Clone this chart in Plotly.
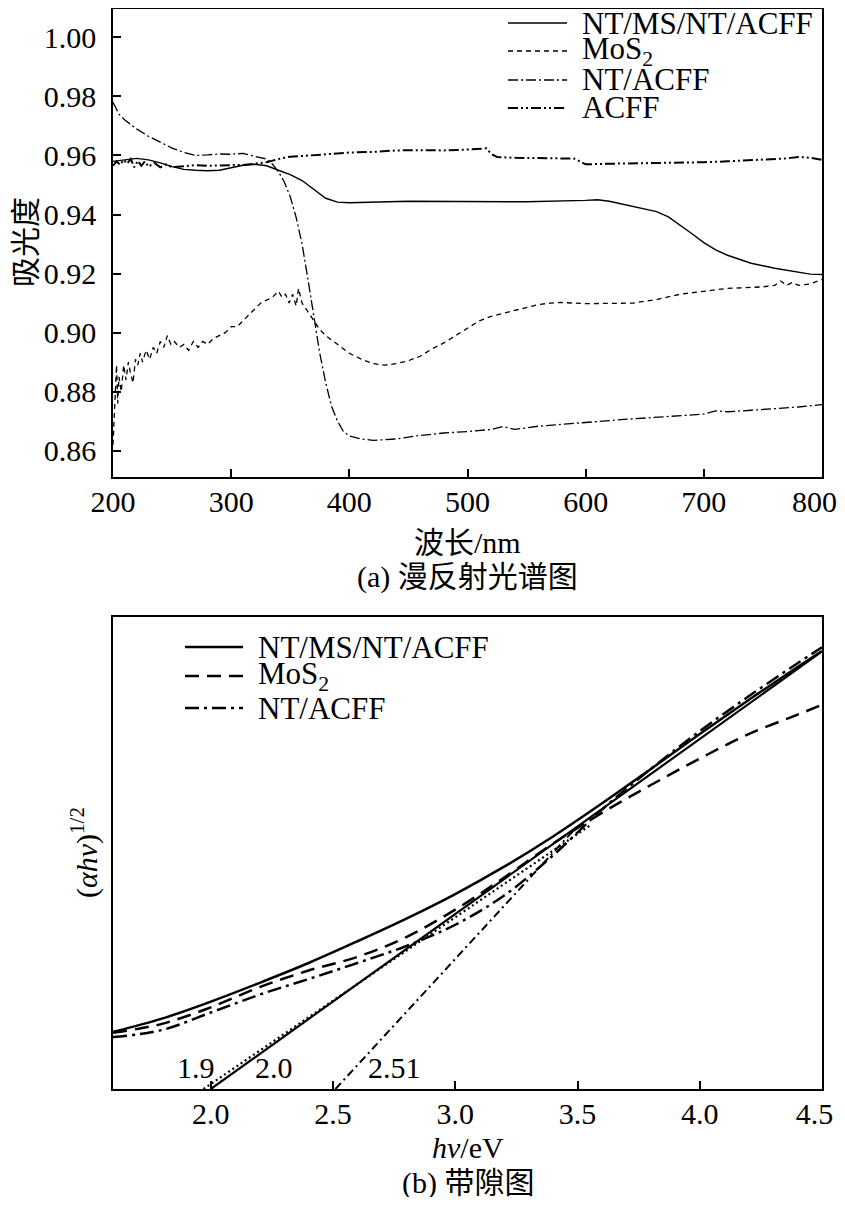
import plotly.graph_objects as go

# page is 845x1205 and the body keeps its default 8px margin
W, H = 837, 1189
OFF = 8
SERIF = "Liberation Serif, Noto Sans CJK SC, serif"

# ---------- (a) diffuse reflectance spectra ----------
ms_x = [200, 210, 220, 230, 240, 250, 260, 270, 280, 290, 300, 310, 320, 330, 340, 350,
        360, 370, 380, 390, 400, 450, 500, 550, 600, 610, 620, 640, 660, 670, 680, 690,
        700, 710, 720, 740, 760, 780, 790, 800]
ms_y = [0.9580, 0.9585, 0.9590, 0.9585, 0.9575, 0.9562, 0.9553, 0.9550, 0.9548, 0.9550,
        0.9558, 0.9567, 0.9570, 0.9565, 0.9550, 0.9535, 0.9515, 0.9485, 0.9455, 0.9442,
        0.9440, 0.9445, 0.9443, 0.9443, 0.9448, 0.9450, 0.9445, 0.9428, 0.9410, 0.9392,
        0.9365, 0.9335, 0.9305, 0.9280, 0.9262, 0.9235, 0.9218, 0.9205, 0.9198, 0.9197]

mos2_x = [200, 201, 202, 203, 204, 205, 207, 209, 211, 213, 215, 217, 219, 221, 223, 225,
          228, 231, 234, 237, 240, 243, 246, 249, 252, 256, 260, 264, 268, 272, 276, 280,
          285, 290, 295, 300, 305, 310, 315, 320, 325, 330, 335, 340, 343, 346, 349, 352,
          355, 357, 360, 365, 370, 375, 380, 390, 400, 410, 420, 430, 440, 450, 460, 470,
          480, 490, 500, 510, 520, 530, 540, 550, 560, 570, 580, 600, 620, 640, 660, 680,
          700, 720, 740, 750, 760, 765, 770, 775, 780, 790, 800]
mos2_y = [0.862, 0.872, 0.879, 0.889, 0.876, 0.885, 0.880, 0.889, 0.884, 0.890, 0.886,
          0.883, 0.891, 0.889, 0.893, 0.890, 0.894, 0.891, 0.895, 0.893, 0.897, 0.895,
          0.899, 0.896, 0.897, 0.895, 0.896, 0.894, 0.897, 0.895, 0.897, 0.896, 0.898,
          0.899, 0.900, 0.902, 0.902, 0.904, 0.906, 0.908, 0.910, 0.911, 0.912, 0.914,
          0.912, 0.913, 0.910, 0.913, 0.909, 0.915, 0.910, 0.907, 0.904, 0.901, 0.899,
          0.896, 0.893, 0.891, 0.8895, 0.889, 0.8895, 0.8905, 0.892, 0.8945, 0.8965,
          0.899, 0.9015, 0.904, 0.9055, 0.9065, 0.9075, 0.9085, 0.9095, 0.910, 0.9102,
          0.9098, 0.9098, 0.910, 0.9112, 0.913, 0.914, 0.915, 0.9153, 0.9155, 0.916,
          0.9175, 0.916, 0.917, 0.916, 0.9165, 0.918]

nt_x = [200, 205, 210, 220, 230, 240, 250, 260, 270, 280, 290, 300, 310, 320, 330, 335,
        340, 345, 350, 355, 360, 365, 370, 375, 380, 385, 390, 395, 400, 410, 420, 440,
        460, 480, 500, 520, 530, 540, 560, 580, 600, 620, 640, 660, 680, 700, 710, 720,
        740, 760, 780, 800]
nt_y = [0.978, 0.974, 0.972, 0.969, 0.9665, 0.9645, 0.9625, 0.961, 0.960, 0.9602, 0.9605,
        0.9604, 0.9607, 0.9597, 0.9588, 0.957, 0.9545, 0.951, 0.946, 0.939, 0.930, 0.918,
        0.905, 0.893, 0.883, 0.875, 0.870, 0.8665, 0.8650, 0.8640, 0.8635, 0.8640, 0.8652,
        0.8660, 0.8665, 0.8672, 0.8682, 0.8672, 0.8683, 0.8690, 0.8697, 0.8702, 0.8708,
        0.8713, 0.8718, 0.8724, 0.8735, 0.8732, 0.8737, 0.8742, 0.8748, 0.8756]

acff_x = [200, 203, 206, 209, 212, 215, 218, 221, 224, 227, 230, 235, 240, 245, 250, 260,
          270, 280, 290, 300, 310, 320, 330, 340, 350, 360, 380, 400, 420, 440, 460, 480,
          500, 510, 516, 520, 525, 540, 560, 580, 590, 595, 600, 620, 640, 660, 680, 700,
          720, 740, 760, 770, 780, 790, 800]
acff_y = [0.9565, 0.9580, 0.9568, 0.9585, 0.9572, 0.9588, 0.9560, 0.9582, 0.9565, 0.9580,
          0.9562, 0.9575, 0.9560, 0.9570, 0.9560, 0.9563, 0.9567, 0.9565, 0.9566, 0.9566,
          0.9568, 0.9572, 0.9577, 0.9588, 0.9596, 0.9598, 0.9603, 0.9610, 0.9612, 0.9617,
          0.9618, 0.9617, 0.9620, 0.9622, 0.9624, 0.9605, 0.9595, 0.9592, 0.9590, 0.9590,
          0.9590, 0.9580, 0.9570, 0.9572, 0.9573, 0.9574, 0.9575, 0.9577, 0.9580, 0.9583,
          0.9586, 0.9590, 0.9595, 0.9592, 0.9585]

a_yticks = [0.86, 0.88, 0.90, 0.92, 0.94, 0.96, 0.98, 1.00]
a_xticks = [200, 300, 400, 500, 600, 700, 800]
a_xlabels = ["200", "300", "400", "500", "600", "700", "800"]

# ---------- (b) band gap (Tauc) ----------
hv = [1.6, 1.8, 2.0, 2.2, 2.4, 2.6, 2.8, 3.0, 3.2, 3.4, 3.6, 3.8, 4.0, 4.2, 4.4, 4.5]
tauc_ms = [1.21, 1.49, 1.85, 2.25, 2.67, 3.13, 3.61, 4.13, 4.71, 5.35, 6.05, 6.78, 7.52,
           8.24, 8.94, 9.28]
tauc_mos2 = [1.19, 1.38, 1.73, 2.16, 2.51, 2.80, 3.22, 3.80, 4.48, 5.20, 5.85, 6.44, 7.00,
             7.52, 7.93, 8.14]
tauc_nt = [1.10, 1.25, 1.62, 2.00, 2.33, 2.67, 3.03, 3.48, 4.10, 4.95, 5.92, 6.78, 7.58,
           8.32, 9.02, 9.36]

# tangent (extrapolation) lines
tan_ms_x, tan_ms_y = [2.0, 4.5], [0.0, 9.27]
tan_mos2_x, tan_mos2_y = [1.97, 3.55], [0.0, 5.58]
tan_nt_x, tan_nt_y = [2.51, 3.50], [0.0, 5.57]

gap_labels = ["1.9", "2.0", "2.51"]
gap_label_x = [1.938, 2.259, 2.750]

b_xticks = [2.0, 2.5, 3.0, 3.5, 4.0, 4.5]
b_xlabels = ["2.0", "2.5", "3.0", "3.5", "4.0", "4.5"]

# last labels sit against the right page edge: pad them so they stay inside
NBSP2 = "\u00a0\u00a0"
a_xlabels_shown = a_xlabels[:-1] + [a_xlabels[-1] + NBSP2]
b_xlabels_shown = b_xlabels[:-1] + [b_xlabels[-1] + NBSP2]

fig = go.Figure()

DASH_A = {"ms": "solid", "mos2": "5px,4px", "nt": "10px,3px,2px,3px",
          "acff": "10px,3px,2px,3px,2px,3px"}
WID_A = {"ms": 1.4, "mos2": 1.3, "nt": 1.3, "acff": 2.0}

for key, xs, ys in [("ms", ms_x, ms_y), ("mos2", mos2_x, mos2_y),
                    ("nt", nt_x, nt_y), ("acff", acff_x, acff_y)]:
    fig.add_trace(go.Scatter(x=xs, y=ys, mode="lines", showlegend=False,
                             line=dict(color="black", width=WID_A[key], dash=DASH_A[key]),
                             xaxis="x", yaxis="y"))

DASH_B = {"ms": "solid", "mos2": "14px,8px", "nt": "14px,5px,3px,5px"}
for key, ys in [("ms", tauc_ms), ("mos2", tauc_mos2), ("nt", tauc_nt)]:
    fig.add_trace(go.Scatter(x=hv, y=ys, mode="lines", showlegend=False, line_shape="spline",
                             line=dict(color="black", width=2.5, dash=DASH_B[key]),
                             xaxis="x2", yaxis="y2"))

fig.add_trace(go.Scatter(x=tan_ms_x, y=tan_ms_y, mode="lines", showlegend=False,
                         line=dict(color="black", width=2.2), xaxis="x2", yaxis="y2"))
fig.add_trace(go.Scatter(x=tan_mos2_x, y=tan_mos2_y, mode="lines", showlegend=False,
                         line=dict(color="black", width=2.2, dash="2px,3px"),
                         xaxis="x2", yaxis="y2"))
fig.add_trace(go.Scatter(x=tan_nt_x, y=tan_nt_y, mode="lines", showlegend=False,
                         line=dict(color="black", width=2.0, dash="8px,4px,2px,4px"),
                         xaxis="x2", yaxis="y2"))


# page pixel -> paper fraction
def px(x):
    return (x - OFF) / W


def py(y):
    return 1 - (y - OFF) / H


axis_common = dict(showline=True, mirror=True, linecolor="black", linewidth=1.6,
                   showgrid=False, zeroline=False, ticks="inside", ticklen=8,
                   tickwidth=1.5, tickcolor="black", automargin=False,
                   ticklabeloverflow="allow",
                   tickfont=dict(family=SERIF, size=30, color="black"))

fig.update_layout(
    width=W, height=H, margin=dict(l=0, r=0, t=0, b=0, autoexpand=False),
    paper_bgcolor="white", plot_bgcolor="white",
    xaxis=dict(axis_common, domain=[px(113), px(822)], range=[200, 800],
               tickvals=a_xticks, ticktext=a_xlabels_shown, anchor="y",
               ticklabelstandoff=-3),
    yaxis=dict(axis_common, domain=[py(477), py(9)], range=[0.8511, 1.0096],
               tickvals=a_yticks, tickformat=".2f", anchor="x", ticklabelstandoff=9),
    xaxis2=dict(axis_common, domain=[px(113), px(822)], range=[1.6, 4.5],
                tickvals=b_xticks, ticktext=b_xlabels_shown, anchor="y2",
                ticklabelstandoff=-3),
    yaxis2=dict(axis_common, domain=[py(1089), py(617)], range=[0, 10],
                ticks="", showticklabels=False, anchor="x2"),
    showlegend=False,
)

anns = []
shapes = []


def legend_row(x0, x1, xt, yc, name, dash, width):
    shapes.append(dict(type="line", xref="paper", yref="paper", x0=px(x0), x1=px(x1),
                       y0=py(yc), y1=py(yc), line=dict(color="black", width=width, dash=dash)))
    anns.append(dict(text=name, xref="paper", yref="paper", x=px(xt), y=py(yc),
                     xanchor="left", yanchor="middle", showarrow=False,
                     font=dict(family=SERIF, size=31, color="black")))


names_a = ["NT/MS/NT/ACFF", "MoS<sub>2</sub>", "NT/ACFF", "ACFF"]
for name, key, yc in zip(names_a, ["ms", "mos2", "nt", "acff"], [23, 51, 80, 108]):
    legend_row(508, 567, 580, yc, name, DASH_A[key], WID_A[key])

names_b = ["NT/MS/NT/ACFF", "MoS<sub>2</sub>", "NT/ACFF"]
for name, key, yc in zip(names_b, ["ms", "mos2", "nt"], [647, 676, 708]):
    legend_row(185, 243, 256, yc, name, DASH_B[key], 2.5)

for t, gx in zip(gap_labels, gap_label_x):
    anns.append(dict(text=t, xref="x2", yref="y2", x=gx, y=0.45, showarrow=False,
                     xanchor="center", yanchor="middle",
                     font=dict(family=SERIF, size=30, color="black")))

titles = [
    ("吸光度", 25, 242, -90),
    ("波长/nm", 467.5, 542, 0),
    ("(a) 漫反射光谱图", 467.5, 577, 0),
    ("(<i>αhv</i>)<sup>1/2</sup>", 84, 853, -90),
    ("<i>hv</i>/eV", 467.5, 1147, 0),
    ("(b) 带隙图", 467.5, 1183, 0),
]
for t, x, y, ang in titles:
    anns.append(dict(text=t, xref="paper", yref="paper", x=px(x), y=py(y),
                     xanchor="center", yanchor="middle", textangle=ang, showarrow=False,
                     font=dict(family=SERIF, size=30, color="black")))

fig.update_layout(annotations=anns, shapes=shapes)

fig.write_html("out.html")
